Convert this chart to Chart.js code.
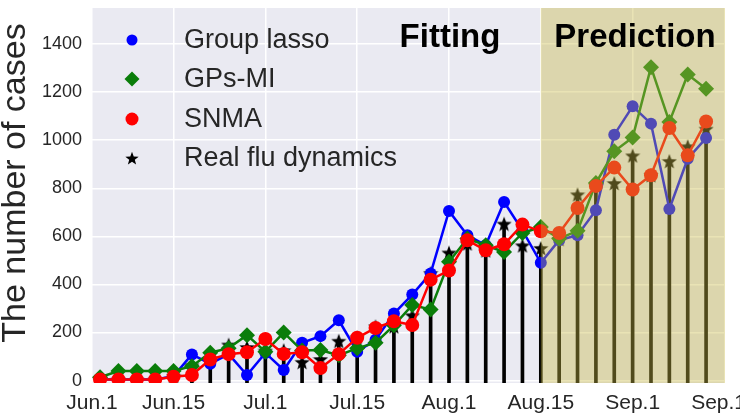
<!DOCTYPE html>
<html>
<head>
<meta charset="utf-8">
<script src="https://cdn.jsdelivr.net/npm/chart.js@4.4.0/dist/chart.umd.min.js"></script>
<style>
  html, body { margin: 0; padding: 0; background: #ffffff; }
  #wrap { width: 740px; height: 416px; }
</style>
</head>
<body>
<div id="wrap"><canvas id="c" width="740" height="416"></canvas></div>
<script>
// ---- data ----
const xTickLabels = ['Jun.1', 'Jun.15', 'Jul.1', 'Jul.15', 'Aug.1', 'Aug.15', 'Sep.1', 'Sep.15'];
const xTickPositions = [-0.44, 4, 9, 14, 19, 24, 29, 34];
const yTickValues = [0, 200, 400, 600, 800, 1000, 1200, 1400];
const predictionStart = 24;

const groupLasso = [5, 5, 5, 5, 18, 109, 70, 110, 23, 115, 44, 157, 185, 251, 120, 170, 279, 358, 446, 706, 605, 563, 743, 625, 490, 584, 605, 709, 1023, 1141, 1069, 714, 923, 1009];
const gpsMI      = [14, 40, 40, 40, 40, 60, 116, 135, 189, 120, 200, 125, 127, 105, 135, 157, 230, 314, 296, 494, 591, 563, 535, 614, 639, 591, 623, 822, 954, 1011, 1304, 1076, 1273, 1214];
const snma       = [5, 5, 5, 5, 16, 23, 88, 110, 118, 173, 111, 118, 52, 110, 178, 219, 247, 231, 420, 458, 584, 542, 567, 649, 621, 614, 718, 810, 886, 795, 854, 1051, 937, 1078];
const realFlu    = [5, 5, 5, 5, 20, 64, 90, 150, 140, 125, 127, 78, 90, 166, 180, 226, 226, 272, 448, 533, 571, 542, 653, 563, 552, 590, 775, 810, 822, 937, 855, 914, 975, 1048];

const seriesNames = ['Group lasso', 'GPs-MI', 'SNMA', 'Real flu dynamics'];
const yTitle = 'The number of cases';
const regionLabels = ['Fitting', 'Prediction'];

// ---- helpers ----
const FONT = "'Liberation Sans', Arial, Helvetica, sans-serif";
const TEXT = '#262626';
const toXY = arr => arr.map((v, i) => ({ x: i, y: v }));

function makeStar(size, color) {
  const c = document.createElement('canvas');
  c.width = size; c.height = size;
  const g = c.getContext('2d');
  g.fillStyle = color;
  g.beginPath();
  const R = size / 2, r = R * 0.42, cy = R + size * 0.06;
  for (let i = 0; i < 10; i++) {
    const a = -Math.PI / 2 + i * Math.PI / 5;
    const rad = (i % 2) ? r : R;
    const px = R + rad * Math.cos(a), py = cy + rad * Math.sin(a);
    if (i === 0) g.moveTo(px, py); else g.lineTo(px, py);
  }
  g.closePath();
  g.fill();
  return c;
}
const starImg = makeStar(16, '#000000');
const starLegend = makeStar(14, '#000000');

const bgPlugin = {
  id: 'bg',
  beforeDraw(chart) {
    const { ctx, chartArea: a } = chart;
    ctx.save();
    ctx.fillStyle = '#EAEAF2';
    ctx.fillRect(a.left, a.top, a.right - a.left, a.bottom - a.top);
    ctx.restore();
  }
};

const overlayPlugin = {
  id: 'overlay',
  afterDatasetsDraw(chart) {
    const { ctx, chartArea: a, scales } = chart;
    const x0 = scales.x.getPixelForValue(predictionStart);
    ctx.save();
    ctx.fillStyle = 'rgba(200,184,70,0.40)';
    ctx.fillRect(x0, a.top, a.right - x0, a.bottom - a.top);
    ctx.restore();
  },
  afterDraw(chart) {
    const { ctx } = chart;
    ctx.save();
    // region labels
    ctx.fillStyle = '#000000';
    ctx.font = "bold 33px " + FONT;
    ctx.textAlign = 'center';
    ctx.textBaseline = 'alphabetic';
    ctx.fillText(regionLabels[0], 450, 47);
    ctx.fillText(regionLabels[1], 635, 47);

    // legend
    const mx = 132, tx = 184;
    const rows = [40, 79, 119, 158];
    ctx.font = "27px " + FONT;
    ctx.textAlign = 'left';
    ctx.textBaseline = 'middle';
    ctx.fillStyle = '#0000ff';
    ctx.beginPath(); ctx.arc(mx, rows[0], 5.5, 0, Math.PI * 2); ctx.fill();
    ctx.fillStyle = '#0a7d0a';
    ctx.beginPath();
    ctx.moveTo(mx, rows[1] - 7.5); ctx.lineTo(mx + 7.5, rows[1]);
    ctx.lineTo(mx, rows[1] + 7.5); ctx.lineTo(mx - 7.5, rows[1]);
    ctx.closePath(); ctx.fill();
    ctx.fillStyle = '#ff0000';
    ctx.beginPath(); ctx.arc(mx, rows[2], 6.5, 0, Math.PI * 2); ctx.fill();
    ctx.drawImage(starLegend, mx - 7, rows[3] - 7);
    ctx.fillStyle = TEXT;
    seriesNames.forEach((n, i) => ctx.fillText(n, tx, rows[i] + 1));

    // y-axis title
    ctx.translate(16, 183);
    ctx.rotate(-Math.PI / 2);
    ctx.font = "34px " + FONT;
    ctx.textAlign = 'center';
    ctx.textBaseline = 'middle';
    ctx.fillStyle = TEXT;
    ctx.fillText(yTitle, 0, 0);
    ctx.restore();
  }
};

new Chart(document.getElementById('c'), {
  data: {
    datasets: [
      {
        type: 'bar',
        label: 'stems',
        data: toXY(realFlu),
        backgroundColor: '#000000',
        barThickness: 3,
        base: -10,
        order: 6
      },
      {
        type: 'line',
        label: seriesNames[3],
        data: toXY(realFlu),
        showLine: false,
        pointStyle: starImg,
        order: 5
      },
      {
        type: 'line',
        label: seriesNames[0],
        data: toXY(groupLasso),
        borderColor: '#0000ff',
        backgroundColor: '#0000ff',
        borderWidth: 2.5,
        pointStyle: 'circle',
        pointRadius: 6,
        pointBorderWidth: 0,
        tension: 0,
        order: 4
      },
      {
        type: 'line',
        label: seriesNames[1],
        data: toXY(gpsMI),
        borderColor: '#0a7d0a',
        backgroundColor: '#0a7d0a',
        borderWidth: 2.5,
        pointStyle: 'rectRot',
        pointRadius: 8,
        pointBorderWidth: 0,
        tension: 0,
        order: 3
      },
      {
        type: 'line',
        label: seriesNames[2],
        data: toXY(snma),
        borderColor: '#ff0000',
        backgroundColor: '#ff0000',
        borderWidth: 2.5,
        pointStyle: 'circle',
        pointRadius: 7,
        pointBorderWidth: 0,
        tension: 0,
        order: 2
      }
    ]
  },
  options: {
    responsive: false,
    animation: false,
    events: [],
    layout: { padding: { top: 7, right: 15, left: 0, bottom: 0 } },
    plugins: { legend: { display: false }, tooltip: { enabled: false } },
    scales: {
      x: {
        type: 'linear',
        offset: false,
        min: -0.44,
        max: 34.03,
        border: { display: false },
        grid: { color: '#ffffff', lineWidth: 1.5, drawTicks: false, offset: false },
        afterBuildTicks(scale) { scale.ticks = xTickPositions.map(v => ({ value: v })); },
        afterFit(scale) { scale.height = 33; scale.paddingLeft = 0; scale.paddingRight = 0; },
        ticks: {
          autoSkip: false,
          maxRotation: 0,
          padding: 8,
          color: TEXT,
          font: { family: FONT, size: 21 },
          callback(value) {
            const i = xTickPositions.indexOf(value);
            return i >= 0 ? xTickLabels[i] : '';
          }
        }
      },
      y: {
        type: 'linear',
        min: -10,
        max: 1550,
        border: { display: false },
        grid: { color: '#ffffff', lineWidth: 1.5, drawTicks: false },
        afterBuildTicks(scale) { scale.ticks = yTickValues.map(v => ({ value: v })); },
        afterFit(scale) { scale.width = 92; scale.paddingTop = 0; scale.paddingBottom = 0; },
        ticks: {
          padding: 10,
          color: TEXT,
          font: { family: FONT, size: 18 },
          callback(value) { return String(value); }
        }
      }
    }
  },
  plugins: [bgPlugin, overlayPlugin]
});
</script>
</body>
</html>
